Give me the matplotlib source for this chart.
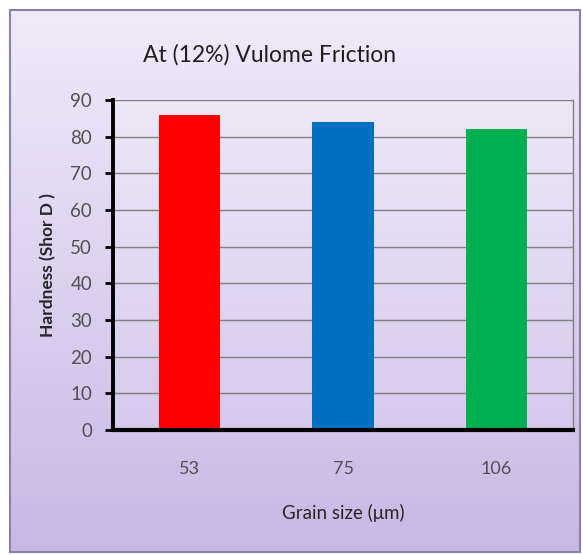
import numpy as np
import matplotlib
matplotlib.use('Agg')
import matplotlib.pyplot as plt
from matplotlib.patches import Rectangle

plt.rcParams['font.family'] = ['Lato', 'DejaVu Sans']

# data
grain_sizes = ['53', '75', '106']
hardness = [86, 84, 82]
bar_colors = ['#ff0000', '#0070c0', '#00b050']
y_ticks = list(range(0, 91, 10))

W, H = 583, 555
fig = plt.figure(figsize=(W / 100, H / 100), dpi=100)
fig.patch.set_facecolor('white')

# figure background: vertical lavender gradient inside a border
bg = fig.add_axes([0, 0, 1, 1], zorder=-10)
bg.set_xlim(0, W)
bg.set_ylim(H, 0)
bg.axis('off')
grad = np.linspace(0, 1, 256).reshape(-1, 1)
top_c = np.array([0.94, 0.92, 0.98])
bot_c = np.array([0.79, 0.72, 0.90])
img = top_c + (bot_c - top_c) * grad[..., None]
bg.imshow(img, extent=[10, 580, 552, 10], aspect='auto', zorder=0)
bg.add_patch(Rectangle((10, 10), 570, 542, fill=False, ec='#8c80aa', lw=1.5, zorder=1))

# plot area
x0, x1, yt, yb = 113, 573, 100, 430
ax = fig.add_axes([x0 / W, 1 - yb / H, (x1 - x0) / W, (yb - yt) / H])
ax.set_facecolor('none')
x = np.arange(len(grain_sizes))
ax.set_xlim(-0.5, len(grain_sizes) - 0.5)
ax.set_ylim(0, 90)

pa_top = np.array([0.93, 0.91, 0.97])
pa_bot = np.array([0.84, 0.79, 0.93])
pa = pa_top + (pa_bot - pa_top) * grad[..., None]
ax.imshow(pa, extent=[-0.5, len(grain_sizes) - 0.5, 0, 90], aspect='auto', zorder=0)

for yv in y_ticks[1:]:
    ax.axhline(yv, color='#7f7f7f', lw=1, zorder=1)

ax.bar(x, hardness, width=0.4, color=bar_colors, zorder=2)

ax.set_xticks(x)
ax.set_xticklabels(grain_sizes, fontsize=13, color='#505050')
ax.tick_params(axis='x', length=0, pad=22)
ax.set_yticks(y_ticks)
ax.tick_params(axis='y', direction='out', length=6, width=2, color='black',
               labelsize=13.5, labelcolor='#505050', pad=9)

ax.spines['left'].set_linewidth(2.8)
ax.spines['bottom'].set_linewidth(3)
ax.spines['top'].set_visible(False)
ax.spines['right'].set_color('#7f7f7f')
ax.spines['right'].set_linewidth(1)

ax.set_ylabel('Hardness (Shor D )', fontsize=12.5, fontweight='bold', color='#262626', labelpad=10)
ax.set_xlabel('Grain size (μm)', fontsize=13.5, color='#262626', labelpad=20)

fig.text(270 / W, 1 - 55 / H, 'At (12%) Vulome Friction', fontsize=16.5, color='#1f1f1f',
         ha='center', va='center')

fig.savefig('out.png', dpi=100)
